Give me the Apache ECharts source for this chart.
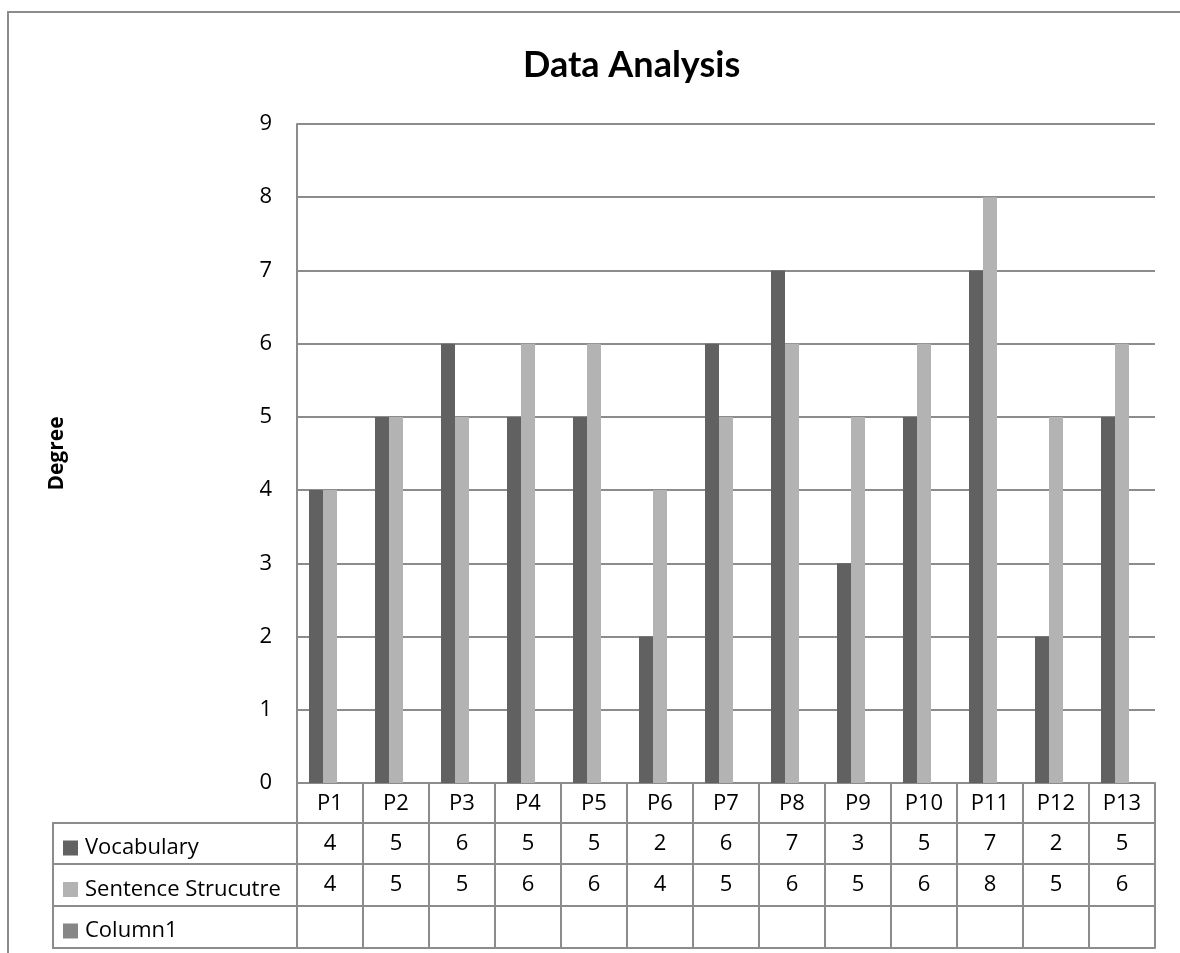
<!DOCTYPE html>
<html>
<head>
<meta charset="utf-8">
<script src="https://cdn.jsdelivr.net/npm/echarts@6/dist/echarts.min.js"></script>
<style>
html,body{margin:0;padding:0;background:#fff;}
#c{width:1180px;height:953px;}
</style>
</head>
<body>
<div id="c"></div>
<script>
const categories = ['P1','P2','P3','P4','P5','P6','P7','P8','P9','P10','P11','P12','P13'];
const vocabulary = [4,5,6,5,5,2,6,7,3,5,7,2,5];
const sentence = [4,5,5,6,6,4,5,6,5,6,8,5,6];
const column1 = [null,null,null,null,null,null,null,null,null,null,null,null,null];
const seriesNames = ['Vocabulary','Sentence Strucutre','Column1'];

const FONT = '"Open Sans", sans-serif';
const LINE = '#8c8c8c';
const FS = 22;

const gridLeft = 297, gridRight = 25, gridTop = 124, gridBottomY = 783;
const rows = [0, 40, 81, 123, 165]; // offsets of table row lines below plot

function tableAxis(idx, labels, tickLen, showLabel) {
  return {
    type: 'category',
    data: categories,
    position: 'bottom',
    offset: rows[idx],
    gridIndex: 0,
    axisLine: {show: true, lineStyle: {color: LINE, width: 2}},
    axisTick: {show: tickLen > 0, length: tickLen, inside: false, lineStyle: {color: LINE, width: 2}},
    axisLabel: {
      show: showLabel,
      interval: 0,
      margin: 10,
      fontFamily: FONT,
      fontSize: FS,
      lineHeight: 22,
      color: '#000',
      formatter: function (v, i) { return labels ? String(labels[i] == null ? '' : labels[i]) : v; }
    },
    splitLine: {show: false}
  };
}

const chart = echarts.init(document.getElementById('c'), null, {renderer: 'canvas'});
chart.setOption({
  animation: false,
  backgroundColor: '#fff',
  title: {
    text: 'Data Analysis',
    left: 518,
    top: 42,
    textStyle: {fontFamily: 'Lato, "Open Sans", sans-serif', fontWeight: 'bold', fontSize: 36, color: '#000'}
  },
  legend: {
    orient: 'vertical',
    left: 58,
    top: 832,
    itemWidth: 15,
    itemHeight: 15,
    itemGap: 19.5,
    icon: 'rect',
    selectedMode: false,
    data: seriesNames,
    textStyle: {fontFamily: FONT, fontSize: FS, color: '#000', lineHeight: 22, padding: [0,0,0,2]}
  },
  grid: {left: gridLeft, right: gridRight, top: gridTop, bottom: 953 - gridBottomY, containLabel: false},
  xAxis: [
    tableAxis(0, null, 40, true),
    tableAxis(1, vocabulary, 41, true),
    tableAxis(2, sentence, 42, true),
    tableAxis(3, column1, 42, true),
    tableAxis(4, null, 0, false)
  ],
  yAxis: {
    type: 'value',
    min: 0, max: 9, interval: 1,
    name: 'Degree',
    nameLocation: 'middle',
    nameRotate: 90,
    nameGap: 229,
    nameTextStyle: {fontFamily: FONT, fontWeight: 'bold', fontSize: 21, color: '#000'},
    axisLine: {show: true, lineStyle: {color: LINE, width: 2}},
    axisTick: {show: false},
    axisLabel: {margin: 25, fontFamily: FONT, fontSize: FS, color: '#000'},
    splitLine: {show: true, lineStyle: {color: LINE, width: 2}}
  },
  series: [
    {name: seriesNames[0], type: 'bar', data: vocabulary, barWidth: 14, barGap: '0%', itemStyle: {color: '#616161'}},
    {name: seriesNames[1], type: 'bar', data: sentence, barWidth: 14, barGap: '0%', itemStyle: {color: '#b3b3b3'}},
    {name: seriesNames[2], type: 'bar', data: column1, barWidth: 14, barGap: '0%', itemStyle: {color: '#868686'}}
  ],
  graphic: [
    {type: 'rect', silent: true, z: -1, shape: {x: 8, y: 12, width: 1300, height: 1100}, style: {fill: 'none', stroke: '#8c8c8c', lineWidth: 2}},
    {type: 'polyline', silent: true, shape: {points: [[gridLeft, gridBottomY + rows[1]], [53, gridBottomY + rows[1]], [53, gridBottomY + rows[4]], [gridLeft, gridBottomY + rows[4]]]}, style: {fill: 'none', stroke: LINE, lineWidth: 2}},
    {type: 'line', silent: true, shape: {x1: 53, y1: gridBottomY + rows[2], x2: gridLeft, y2: gridBottomY + rows[2]}, style: {stroke: LINE, lineWidth: 2}},
    {type: 'line', silent: true, shape: {x1: 53, y1: gridBottomY + rows[3], x2: gridLeft, y2: gridBottomY + rows[3]}, style: {stroke: LINE, lineWidth: 2}}
  ]
});
</script>
</body>
</html>
